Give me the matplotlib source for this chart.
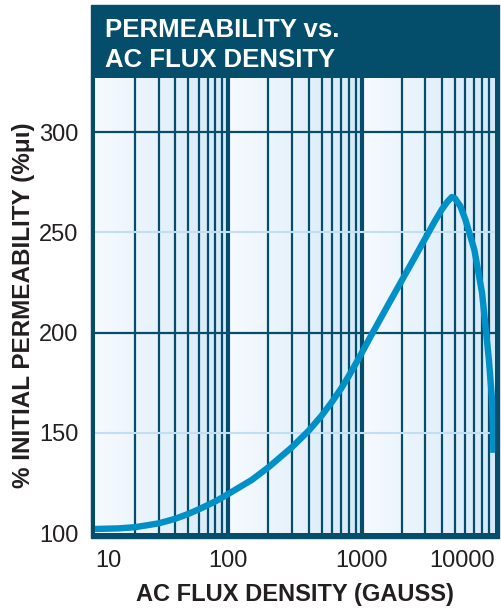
import numpy as np
import matplotlib.pyplot as plt
from matplotlib.patches import Rectangle
from matplotlib.colors import LinearSegmentedColormap

plt.rcParams['font.family'] = ['Liberation Sans', 'DejaVu Sans']

# data
flux_gauss = [10, 15, 20, 30, 40, 50, 60, 70, 80, 90, 100, 150, 200, 300, 400, 500,
              600, 700, 800, 900, 1000, 1157, 1375, 1600, 2000, 2500, 3000, 3500,
              4000, 4400, 4740, 5000, 5500, 6000, 7000, 8000, 9000, 9460, 9600, 9730]
perm_pct = [102.0, 102.3, 102.9, 104.8, 107.1, 109.5, 111.8, 113.9, 115.8, 117.7,
            119.5, 126.5, 132.8, 142.8, 151.0, 158.5, 165.5, 172.0, 178.3, 184.3,
            189.8, 197.6, 206.6, 214.5, 226.0, 237.5, 247.0, 255.0, 261.5, 265.3,
            267.6, 267.0, 263.0, 256.3, 241.3, 219.7, 186.4, 168.1, 157.0, 140.0]

x_ticks = [10, 100, 1000, 10000]
x_ticklabels = ['10', '100', '1000', '10000']
y_ticks = [100, 150, 200, 250, 300]
title_lines = ['PERMEABILITY vs.', 'AC FLUX DENSITY']

navy = '#044E6C'
curve_col = '#0090C8'
light_grid = '#C2DEF2'

W, H = 502, 608
fig = plt.figure(figsize=(W / 100, H / 100), dpi=100)

# navy frame + title box
fig.patches.append(Rectangle((91 / W, 1 - 538 / H), (499 - 91) / W, (538 - 5) / H,
                             transform=fig.transFigure, color=navy, zorder=0))

ax = fig.add_axes([95 / W, 1 - 533 / H, 400 / W, (533 - 78) / H])
ax.set_zorder(1)
for s in ax.spines.values():
    s.set_visible(False)

# background: a gradient per decade
cmap = LinearSegmentedColormap.from_list('bg', ['#F6FAFE', '#D6E9F8'])
grad = np.tile(np.linspace(0, 1, 200), 3)[None, :]
ax.imshow(grad, cmap=cmap, extent=(0, 1, 0, 1), transform=ax.transAxes,
          aspect='auto', zorder=0)

ax.set_xscale('log')
ax.set_xlim(10, 10000)
ax.set_ylim(100, 327)

# grid lines
for dec in [10, 100, 1000]:
    for m in range(2, 10):
        ax.axvline(dec * m, color=navy, lw=1.6, zorder=1)
for dec in [100, 1000]:
    ax.axvline(dec, color=navy, lw=3, zorder=1)
for yv in [150, 250]:
    ax.axhline(yv, color=light_grid, lw=1.5, zorder=1)
for yv in [200, 300]:
    ax.axhline(yv, color=navy, lw=1.6, zorder=1)

ax.plot(flux_gauss, perm_pct, color=curve_col, lw=4.6, solid_capstyle='butt',
        solid_joinstyle='round', zorder=3)

ax.set_xticks(x_ticks)
ax.set_xticklabels(x_ticklabels)
ax.xaxis.set_minor_locator(plt.NullLocator())
ax.set_yticks(y_ticks)
ax.tick_params(length=0, labelsize=17, colors='#231F20')
ax.tick_params(axis='x', pad=12.5)
ax.tick_params(axis='y', pad=12)
labs = ax.get_xticklabels()
labs[0].set_ha('left')
labs[-1].set_ha('right')

ax.set_xlabel('AC FLUX DENSITY (GAUSS)', fontsize=17, fontweight='bold',
              color='#231F20', labelpad=8)
ax.set_ylabel('% INITIAL PERMEABILITY (%μι)', fontsize=17.5, fontweight='bold',
              color='#231F20', labelpad=3)

fig.text(105 / W, 1 - 37 / H, title_lines[0], color='white', fontsize=18.5,
         fontweight='bold', va='baseline', ha='left')
fig.text(105 / W, 1 - 67 / H, title_lines[1], color='white', fontsize=18.5,
         fontweight='bold', va='baseline', ha='left')

fig.savefig('out.png', dpi=100)
